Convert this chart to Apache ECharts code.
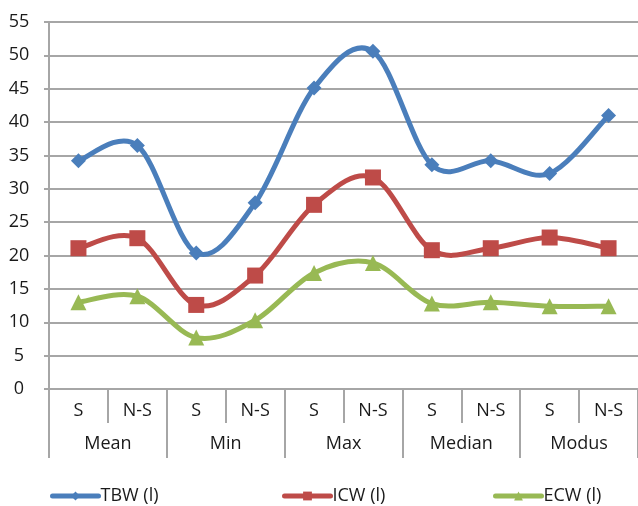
<!DOCTYPE html>
<html>
<head>
<meta charset="utf-8">
<script src="https://cdn.jsdelivr.net/npm/echarts@6/dist/echarts.min.js"></script>
<style>html,body{margin:0;padding:0;background:#fff}#c{width:638px;height:506px}</style>
</head>
<body>
<div id="c"></div>
<script>
const subCategories = ["S","N-S","S","N-S","S","N-S","S","N-S","S","N-S"];
const groupCategories = ["Mean","Min","Max","Median","Modus"];
const yTicks = {min: 0, max: 55, interval: 5};
const tbw = [34.2, 36.5, 20.4, 27.9, 45.1, 50.6, 33.6, 34.2, 32.3, 41.0];
const icw = [21.1, 22.6, 12.6, 17.0, 27.6, 31.7, 20.8, 21.1, 22.7, 21.1];
const ecw = [13.0, 13.9, 7.7, 10.3, 17.4, 18.9, 12.8, 13.0, 12.4, 12.4];
const seriesNames = ["TBW (l)", "ICW (l)", "ECW (l)"];
const colors = ['#4a7ebb', '#be4b48', '#98b954'];

const gray = '#a6a6a6';
const font = '"Open Sans", "Noto Sans", sans-serif';
const txt = '#1a1a1a';

const chart = echarts.init(document.getElementById('c'), null, {renderer: 'canvas'});

function catmull(pts) {
  let d = 'M' + pts[0][0] + ',' + pts[0][1];
  for (let i = 0; i < pts.length - 1; i++) {
    const p0 = pts[Math.max(i - 1, 0)], p1 = pts[i], p2 = pts[i + 1], p3 = pts[Math.min(i + 2, pts.length - 1)];
    const c1x = p1[0] + (p2[0] - p0[0]) / 6, c1y = p1[1] + (p2[1] - p0[1]) / 6;
    const c2x = p2[0] - (p3[0] - p1[0]) / 6, c2y = p2[1] - (p3[1] - p1[1]) / 6;
    d += ' C' + c1x + ',' + c1y + ' ' + c2x + ',' + c2y + ' ' + p2[0] + ',' + p2[1];
  }
  return d;
}
function mkCurve(name, data, color, z) {
  return {
    name: name + ' curve', type: 'custom', z, xAxisIndex: 0, yAxisIndex: 0,
    data: data.map((v, i) => [i, v]),
    encode: {x: 0, y: 1},
    silent: true, animation: false,
    renderItem: function (params, api) {
      if (params.dataIndex !== 0) return null;
      const pts = data.map((v, i) => api.coord([i, v]));
      return {
        type: 'path',
        shape: {pathData: catmull(pts)},
        style: {stroke: color, lineWidth: 5, fill: null, lineCap: 'round', lineJoin: 'round'}
      };
    }
  };
}
function mkMarkers(name, data, color, symbol, size, z) {
  return {
    name, type: 'line', data, z, xAxisIndex: 0, yAxisIndex: 0,
    symbol, symbolSize: size, showSymbol: true,
    lineStyle: {color, width: 0, opacity: 0},
    itemStyle: {color},
    emphasis: {disabled: true},
    animation: false
  };
}
function mkLegend(idx, left) {
  return {
    data: [seriesNames[idx]], left, top: 482, itemWidth: 46, itemHeight: 11, itemGap: 4,
    lineStyle: {color: colors[idx], width: 5, opacity: 1, cap: 'round'},
    itemStyle: {color: colors[idx]},
    textStyle: {fontFamily: font, fontSize: 18, color: txt, padding: [0, 0, 0, -3]},
    selectedMode: false
  };
}
chart.setOption({
  backgroundColor: '#fff',
  animation: false,
  grid: {left: 49, right: -4, top: 22, bottom: 117, containLabel: false},
  legend: [mkLegend(0, 45), mkLegend(1, 277), mkLegend(2, 488)],
  xAxis: [
    {
      type: 'category', data: subCategories, position: 'bottom', boundaryGap: true,
      axisLine: {show: true, lineStyle: {color: gray, width: 2}},
      axisTick: {show: true, length: 34, interval: 0, lineStyle: {color: gray, width: 2}},
      axisLabel: {interval: 0, margin: 13, fontFamily: font, fontSize: 18, color: txt}
    },
    {
      type: 'category', data: groupCategories, position: 'bottom', boundaryGap: true,
      axisLine: {show: false},
      axisTick: {show: true, length: 69, interval: 0, lineStyle: {color: gray, width: 2}},
      axisLabel: {interval: 0, margin: 46, fontFamily: font, fontSize: 18, color: txt}
    }
  ],
  yAxis: {
    type: 'value', min: yTicks.min, max: yTicks.max, interval: yTicks.interval,
    axisLine: {show: true, lineStyle: {color: gray, width: 2}},
    axisTick: {show: true, length: 5, lineStyle: {color: gray, width: 2}},
    splitLine: {show: true, lineStyle: {color: gray, width: 2}},
    axisLabel: {margin: 30, align: 'center', fontFamily: font, fontSize: 18, color: txt}
  },
  series: [
    mkCurve(seriesNames[0], tbw, colors[0], 2),
    mkMarkers(seriesNames[0], tbw, colors[0], 'diamond', 15, 3),
    mkCurve(seriesNames[1], icw, colors[1], 4),
    mkMarkers(seriesNames[1], icw, colors[1], 'rect', 16, 5),
    mkCurve(seriesNames[2], ecw, colors[2], 6),
    mkMarkers(seriesNames[2], ecw, colors[2], 'triangle', 16, 7)
  ]
});
</script>
</body>
</html>
